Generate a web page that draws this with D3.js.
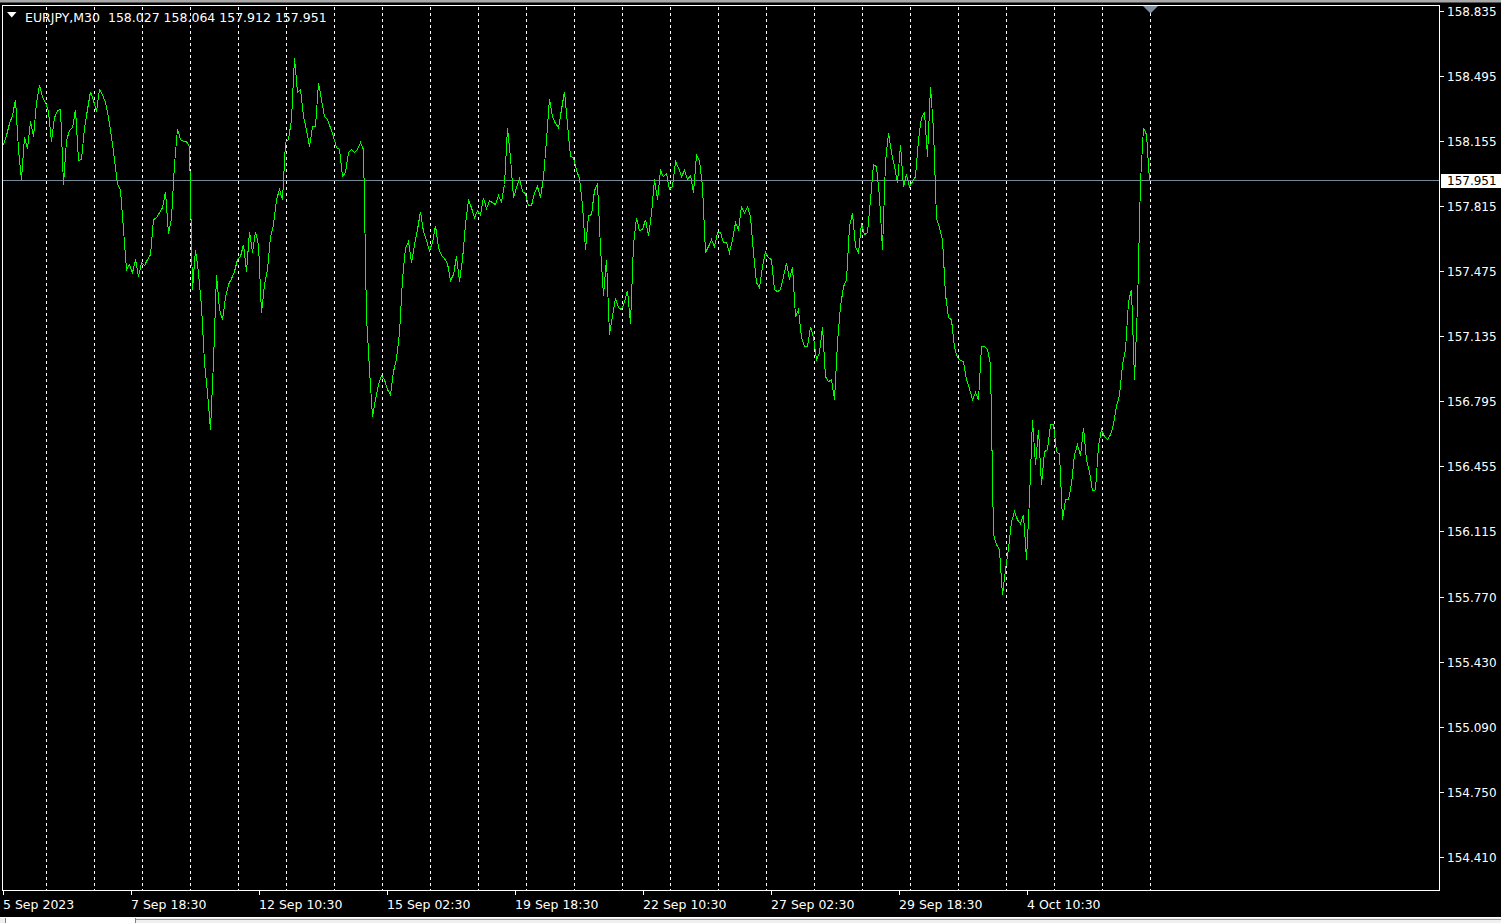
<!DOCTYPE html>
<html>
<head>
<meta charset="utf-8">
<script src="https://cdn.jsdelivr.net/npm/d3@7"></script>
<style>
  html, body { margin: 0; padding: 0; background: #000; overflow: hidden; }
  svg { display: block; }
  text { font-family: "DejaVu Sans", Verdana, sans-serif; fill: #fff; }
</style>
</head>
<body>
<div id="chart"></div>
<script>
var width = 1501,
    height = 923;

// EURJPY M30 closes, one every 3 bars (90 minutes), from 5 Sep 2023 02:30
var closes = [
  158.139, 158.186, 158.249, 158.291, 158.374, 158.113, 157.956, 158.180, 158.118, 158.260,
  158.180, 158.358, 158.448, 158.390, 158.358, 158.312, 158.155, 158.280, 158.317, 158.322,
  157.930, 158.160, 158.212, 158.227, 158.322, 158.055, 158.060, 158.227, 158.322, 158.416,
  158.369, 158.312, 158.427, 158.401, 158.358, 158.280, 158.180, 158.060, 157.930, 157.903,
  157.694, 157.484, 157.510, 157.468, 157.537, 157.447, 157.521, 157.505, 157.537, 157.563,
  157.746, 157.756, 157.782, 157.808, 157.893, 157.673, 157.751, 158.034, 158.222, 158.165,
  158.155, 158.155, 158.128, 157.380, 157.589, 157.468, 157.291, 156.997, 156.840, 156.647,
  157.003, 157.458, 157.275, 157.222, 157.338, 157.406, 157.437, 157.474, 157.537, 157.553,
  157.615, 157.474, 157.683, 157.573, 157.683, 157.615, 157.259, 157.406, 157.484, 157.657,
  157.720, 157.851, 157.903, 157.851, 158.149, 158.165, 158.270, 158.594, 158.411, 158.427,
  158.285, 158.217, 158.128, 158.233, 158.233, 158.463, 158.374, 158.285, 158.270, 158.227,
  158.180, 158.123, 158.113, 157.971, 157.992, 158.097, 158.113, 158.097, 158.113, 158.149,
  158.113, 157.238, 156.961, 156.715, 156.804, 156.882, 156.929, 156.908, 156.856, 156.830,
  156.950, 157.018, 157.154, 157.432, 157.599, 157.631, 157.521, 157.615, 157.694, 157.788,
  157.683, 157.636, 157.584, 157.626, 157.714, 157.599, 157.558, 157.542, 157.516, 157.427,
  157.458, 157.553, 157.422, 157.537, 157.720, 157.851, 157.808, 157.756, 157.793, 157.772,
  157.861, 157.803, 157.845, 157.835, 157.824, 157.872, 157.840, 157.930, 158.227, 158.071,
  157.861, 157.914, 157.961, 157.893, 157.882, 157.819, 157.819, 157.887, 157.919, 157.861,
  157.966, 158.165, 158.379, 158.285, 158.249, 158.227, 158.322, 158.416, 158.243, 158.076,
  158.071, 158.003, 157.961, 157.819, 157.589, 157.767, 157.772, 157.898, 157.935, 157.599,
  157.348, 157.537, 157.144, 157.243, 157.333, 157.285, 157.275, 157.317, 157.374, 157.201,
  157.615, 157.756, 157.688, 157.694, 157.746, 157.662, 157.777, 157.956, 157.851, 158.003,
  157.971, 157.987, 157.903, 157.919, 158.050, 158.018, 157.971, 158.003, 157.956, 157.977,
  157.887, 158.086, 158.055, 157.919, 157.573, 157.605, 157.641, 157.605, 157.678, 157.678,
  157.626, 157.626, 157.573, 157.641, 157.730, 157.694, 157.814, 157.782, 157.814, 157.761,
  157.573, 157.416, 157.390, 157.500, 157.578, 157.547, 157.537, 157.380, 157.369, 157.380,
  157.447, 157.521, 157.432, 157.500, 157.238, 157.275, 157.128, 157.081, 157.081, 157.186,
  157.128, 157.013, 157.050, 157.186, 156.924, 156.898, 156.908, 156.804, 157.102, 157.291,
  157.395, 157.432, 157.709, 157.782, 157.605, 157.573, 157.730, 157.667, 157.678, 157.851,
  158.034, 158.024, 157.866, 157.589, 158.045, 158.201, 158.097, 158.024, 157.940, 158.139,
  157.919, 157.982, 157.919, 157.945, 157.971, 158.165, 158.280, 158.306, 158.076, 158.442,
  158.217, 157.751, 157.704, 157.641, 157.354, 157.233, 157.222, 157.076, 157.024, 157.008,
  157.003, 156.908, 156.861, 156.804, 156.840, 156.804, 157.081, 157.081, 157.065, 156.987,
  156.097, 156.045, 156.018, 155.782, 155.913, 156.024, 156.165, 156.217, 156.175, 156.154,
  156.201, 155.966, 156.285, 156.699, 156.463, 156.647, 156.358, 156.531, 156.542, 156.673,
  156.673, 156.531, 156.520, 156.175, 156.280, 156.280, 156.363, 156.515, 156.568, 156.510,
  156.657, 156.489, 156.427, 156.327, 156.332, 156.563, 156.647, 156.610, 156.594, 156.620,
  156.673, 156.772, 156.825, 156.987, 157.065, 157.317, 157.380, 156.908, 157.296, 157.945,
  158.227, 158.191, 157.951
];
var barsPerClose = 3;

var priceTicks = [158.835, 158.495, 158.155, 157.815, 157.475, 157.135, 156.795,
                  156.455, 156.115, 155.770, 155.430, 155.090, 154.750, 154.410];

var timeLabels = ["5 Sep 2023", "7 Sep 18:30", "12 Sep 10:30", "15 Sep 02:30", "19 Sep 18:30",
                  "22 Sep 10:30", "27 Sep 02:30", "29 Sep 18:30", "4 Oct 10:30"];
var barsPerLabel = 128;

var symbol = "EURJPY,M30";
var ohlc = ["158.027", "158.064", "157.912", "157.951"];
var lastPrice = 157.951;

var firstDayBar = 43,   // 6 Sep 00:00
    barsPerDay = 48;

var plot = { left: 2.5, top: 5.5, right: 1439.5, bottom: 890.5 };
var lastBar = (closes.length - 1) * barsPerClose + 1;

var x = d3.scaleLinear().domain([0, 1436]).range([3.5, 1439.5]);
var y = d3.scaleLinear().domain([154.410, 158.835]).range([857, 11.6]);

var svg = d3.select("#chart")
            .append("svg")
            .attr("width", width)
            .attr("height", height);

svg.append("rect")
   .attr("width", width)
   .attr("height", height)
   .attr("fill", "#000");

// window chrome top / bottom
svg.append("rect").attr("x", 0).attr("y", 0).attr("width", width).attr("height", 2.5).attr("fill", "#a9a9a9");
svg.append("rect").attr("x", 0).attr("y", 917).attr("width", width).attr("height", 6).attr("fill", "#f0f0f0");
svg.append("line").attr("x1", 0).attr("x2", width).attr("y1", 917.5).attr("y2", 917.5).attr("stroke", "#fff");
svg.append("line").attr("x1", 136).attr("x2", width).attr("y1", 919.5).attr("y2", 919.5).attr("stroke", "#a0a0a0");
svg.append("rect").attr("x", 6).attr("y", 918).attr("width", 130).attr("height", 5).attr("fill", "#fff");
svg.append("line").attr("x1", 5.5).attr("x2", 5.5).attr("y1", 918).attr("y2", 923).attr("stroke", "#808080");
svg.append("line").attr("x1", 135.5).attr("x2", 135.5).attr("y1", 918).attr("y2", 923).attr("stroke", "#808080");

// day separators
var dayBars = d3.range(firstDayBar, lastBar + 1, barsPerDay);
svg.append("g")
   .selectAll("line")
   .data(dayBars)
   .join("line")
   .attr("x1", function (d) { return x(d); })
   .attr("x2", function (d) { return x(d); })
   .attr("y1", plot.top + 1)
   .attr("y2", plot.bottom)
   .attr("stroke", "#fff")
   .attr("stroke-dasharray", "3,3")
   .attr("shape-rendering", "crispEdges");

// bid line
svg.append("line")
   .attr("x1", plot.left)
   .attr("x2", plot.right)
   .attr("y1", Math.round(y(lastPrice) - 0.5) + 0.5)
   .attr("y2", Math.round(y(lastPrice) - 0.5) + 0.5)
   .attr("stroke", "#778899")
   .attr("shape-rendering", "crispEdges");

// price line
var line = d3.line()
             .x(function (d, i) { return x(i * barsPerClose); })
             .y(function (d) { return y(d); });

svg.append("path")
   .datum(closes)
   .attr("d", line)
   .attr("fill", "none")
   .attr("stroke", "#00ff00")
   .attr("stroke-width", 1)
   .attr("shape-rendering", "crispEdges");

// frame
svg.append("rect")
   .attr("x", plot.left)
   .attr("y", plot.top)
   .attr("width", plot.right - plot.left)
   .attr("height", plot.bottom - plot.top)
   .attr("fill", "none")
   .attr("stroke", "#fff")
   .attr("shape-rendering", "crispEdges");

// shift marker
var mx = x(lastBar);
svg.append("path")
   .attr("d", "M" + (mx - 7.5) + ",6 L" + (mx + 7.5) + ",6 L" + mx + ",13.5 Z")
   .attr("fill", "#7f8fa0");

// right price axis
var yAxis = svg.append("g");
priceTicks.forEach(function (p) {
  var ty = Math.round(y(p) - 0.5) + 0.5;
  yAxis.append("line")
       .attr("x1", plot.right)
       .attr("x2", plot.right + 4)
       .attr("y1", ty)
       .attr("y2", ty)
       .attr("stroke", "#fff")
       .attr("shape-rendering", "crispEdges");
  yAxis.append("text")
       .attr("x", 1447)
       .attr("y", ty + 4.5)
       .attr("font-size", "12px")
       .text(p.toFixed(3));
});

var ly = Math.round(y(lastPrice) - 0.5) + 0.5;
svg.append("rect")
   .attr("x", 1441)
   .attr("y", ly - 6.5)
   .attr("width", 60)
   .attr("height", 14)
   .attr("fill", "#fff");
svg.append("text")
   .attr("x", 1447)
   .attr("y", ly + 4.5)
   .attr("font-size", "12px")
   .style("fill", "#000")
   .text(lastPrice.toFixed(3));

// bottom time axis
var xAxis = svg.append("g");
timeLabels.forEach(function (t, i) {
  var tx = x(i * barsPerLabel);
  xAxis.append("line")
       .attr("x1", tx)
       .attr("x2", tx)
       .attr("y1", plot.bottom)
       .attr("y2", plot.bottom + 4)
       .attr("stroke", "#fff")
       .attr("shape-rendering", "crispEdges");
  xAxis.append("text")
       .attr("x", tx - 0.5)
       .attr("y", 909)
       .attr("font-size", "12.5px")
       .text(t);
});

// header
svg.append("path")
   .attr("d", "M7,12 L16.5,12 L11.75,17.5 Z")
   .attr("fill", "#fff");
svg.append("text")
   .attr("x", 25)
   .attr("y", 21.5)
   .attr("font-size", "12.5px")
   .attr("xml:space", "preserve")
   .text(symbol + "  " + ohlc.join(" "));
</script>
</body>
</html>
